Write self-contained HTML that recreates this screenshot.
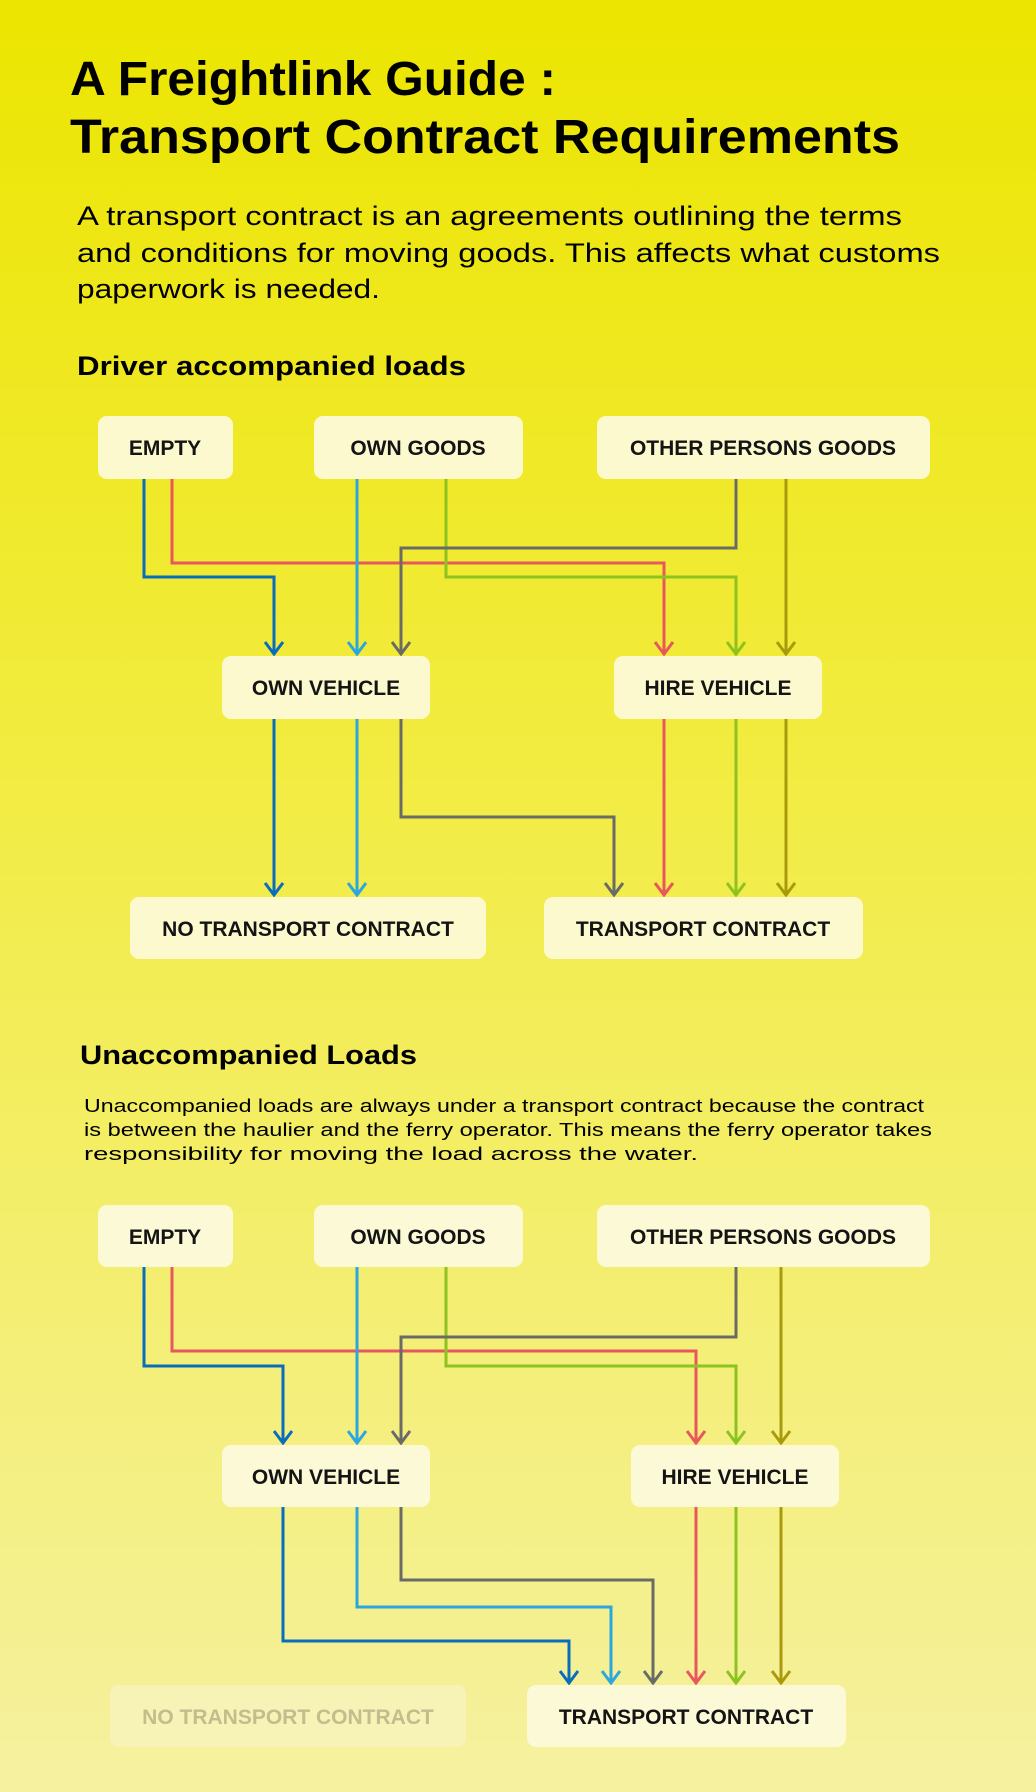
<!DOCTYPE html>
<html><head><meta charset="utf-8"><style>
html,body{margin:0;padding:0}
body{width:1036px;height:1792px;overflow:hidden;background:linear-gradient(180deg,#ece500 0%,#f2ec45 45%,#f5f1a0 100%);font-family:"Liberation Sans",sans-serif;color:#111}
svg{position:absolute;left:0;top:0}
.t{font-weight:bold;font-size:21px;fill:#141414}
</style></head><body>
<svg width="1036" height="1792" viewBox="0 0 1036 1792">
<defs>
<marker id="mb" markerWidth="24" markerHeight="16" refX="10" refY="14" orient="0" markerUnits="userSpaceOnUse"><path d="M1 2 L10 14 L19 2" fill="none" stroke="#0a6cbd" stroke-width="3"/></marker>
<marker id="ml" markerWidth="24" markerHeight="16" refX="10" refY="14" orient="0" markerUnits="userSpaceOnUse"><path d="M1 2 L10 14 L19 2" fill="none" stroke="#2ba6de" stroke-width="3"/></marker>
<marker id="mr" markerWidth="24" markerHeight="16" refX="10" refY="14" orient="0" markerUnits="userSpaceOnUse"><path d="M1 2 L10 14 L19 2" fill="none" stroke="#e8575e" stroke-width="3"/></marker>
<marker id="mg" markerWidth="24" markerHeight="16" refX="10" refY="14" orient="0" markerUnits="userSpaceOnUse"><path d="M1 2 L10 14 L19 2" fill="none" stroke="#6a6a66" stroke-width="3"/></marker>
<marker id="mn" markerWidth="24" markerHeight="16" refX="10" refY="14" orient="0" markerUnits="userSpaceOnUse"><path d="M1 2 L10 14 L19 2" fill="none" stroke="#8dc21f" stroke-width="3"/></marker>
<marker id="mo" markerWidth="24" markerHeight="16" refX="10" refY="14" orient="0" markerUnits="userSpaceOnUse"><path d="M1 2 L10 14 L19 2" fill="none" stroke="#a99a0c" stroke-width="3"/></marker>
</defs>

<text x="70" y="95" font-size="48" font-weight="bold" textLength="486" lengthAdjust="spacingAndGlyphs">A Freightlink Guide :</text>
<text x="70" y="153" font-size="48" font-weight="bold" textLength="830" lengthAdjust="spacingAndGlyphs">Transport Contract Requirements</text>
<text x="77" y="225" font-size="26.5" textLength="825" lengthAdjust="spacingAndGlyphs">A transport contract is an agreements outlining the terms</text>
<text x="77" y="262" font-size="26.5" textLength="863" lengthAdjust="spacingAndGlyphs">and conditions for moving goods. This affects what customs</text>
<text x="77" y="298" font-size="26.5" textLength="303" lengthAdjust="spacingAndGlyphs">paperwork is needed.</text>
<text x="77" y="375" font-size="27" font-weight="bold" textLength="389" lengthAdjust="spacingAndGlyphs">Driver accompanied loads</text>

<g fill="none" stroke-width="3">
<path d="M144 479 V577 H274 V654" stroke="#0a6cbd" marker-end="url(#mb)"/>
<path d="M172 479 V563 H664 V654" stroke="#e8575e" marker-end="url(#mr)"/>
<path d="M357 479 V654" stroke="#2ba6de" marker-end="url(#ml)"/>
<path d="M446 479 V577 H736 V654" stroke="#8dc21f" marker-end="url(#mn)"/>
<path d="M736 479 V548 H401 V654" stroke="#6a6a66" marker-end="url(#mg)"/>
<path d="M786 479 V654" stroke="#a99a0c" marker-end="url(#mo)"/>
<path d="M274 719 V895" stroke="#0a6cbd" marker-end="url(#mb)"/>
<path d="M357 719 V895" stroke="#2ba6de" marker-end="url(#ml)"/>
<path d="M401 719 V817 H614 V895" stroke="#6a6a66" marker-end="url(#mg)"/>
<path d="M664 719 V895" stroke="#e8575e" marker-end="url(#mr)"/>
<path d="M736 719 V895" stroke="#8dc21f" marker-end="url(#mn)"/>
<path d="M786 719 V895" stroke="#a99a0c" marker-end="url(#mo)"/>
</g>
<g fill="#fcf9cf">
<rect x="98" y="416" width="135" height="63" rx="9"/>
<rect x="314" y="416" width="209" height="63" rx="9"/>
<rect x="597" y="416" width="333" height="63" rx="9"/>
<rect x="222" y="656" width="208" height="63" rx="9"/>
<rect x="614" y="656" width="208" height="63" rx="9"/>
<rect x="130" y="897" width="356" height="62" rx="9"/>
<rect x="544" y="897" width="319" height="62" rx="9"/>
</g>
<g class="t" text-anchor="middle">
<text class="t" x="165" y="455">EMPTY</text>
<text class="t" x="418" y="455">OWN GOODS</text>
<text class="t" x="763" y="455">OTHER PERSONS GOODS</text>
<text class="t" x="326" y="695">OWN VEHICLE</text>
<text class="t" x="718" y="695">HIRE VEHICLE</text>
<text class="t" x="308" y="936">NO TRANSPORT CONTRACT</text>
<text class="t" x="703" y="936">TRANSPORT CONTRACT</text>
</g>

<text x="80" y="1064" font-size="27" font-weight="bold" textLength="337" lengthAdjust="spacingAndGlyphs">Unaccompanied Loads</text>
<text x="84" y="1112" font-size="18.5" textLength="840" lengthAdjust="spacingAndGlyphs">Unaccompanied loads are always under a transport contract because the contract</text>
<text x="84" y="1136" font-size="18.5" textLength="848" lengthAdjust="spacingAndGlyphs">is between the haulier and the ferry operator. This means the ferry operator takes</text>
<text x="84" y="1160" font-size="18.5" textLength="614" lengthAdjust="spacingAndGlyphs">responsibility for moving the load across the water.</text>

<g fill="none" stroke-width="3">
<path d="M144 1267 V1366 H283 V1443" stroke="#0a6cbd" marker-end="url(#mb)"/>
<path d="M172 1267 V1351 H696 V1443" stroke="#e8575e" marker-end="url(#mr)"/>
<path d="M357 1267 V1443" stroke="#2ba6de" marker-end="url(#ml)"/>
<path d="M446 1267 V1366 H736 V1443" stroke="#8dc21f" marker-end="url(#mn)"/>
<path d="M736 1267 V1337 H401 V1443" stroke="#6a6a66" marker-end="url(#mg)"/>
<path d="M781 1267 V1443" stroke="#a99a0c" marker-end="url(#mo)"/>
<path d="M283 1507 V1641 H569 V1683" stroke="#0a6cbd" marker-end="url(#mb)"/>
<path d="M357 1507 V1607 H611 V1683" stroke="#2ba6de" marker-end="url(#ml)"/>
<path d="M401 1507 V1580 H653 V1683" stroke="#6a6a66" marker-end="url(#mg)"/>
<path d="M696 1507 V1683" stroke="#e8575e" marker-end="url(#mr)"/>
<path d="M736 1507 V1683" stroke="#8dc21f" marker-end="url(#mn)"/>
<path d="M781 1507 V1683" stroke="#a99a0c" marker-end="url(#mo)"/>
</g>
<g fill="#fcf9d6">
<rect x="98" y="1205" width="135" height="62" rx="9"/>
<rect x="314" y="1205" width="209" height="62" rx="9"/>
<rect x="597" y="1205" width="333" height="62" rx="9"/>
<rect x="222" y="1445" width="208" height="62" rx="9"/>
<rect x="631" y="1445" width="208" height="62" rx="9"/>
<rect x="110" y="1685" width="356" height="62" rx="9" fill="#f7f3b6"/>
<rect x="527" y="1685" width="319" height="62" rx="9"/>
</g>
<text class="t" text-anchor="middle" x="165" y="1244">EMPTY</text>
<text class="t" text-anchor="middle" x="418" y="1244">OWN GOODS</text>
<text class="t" text-anchor="middle" x="763" y="1244">OTHER PERSONS GOODS</text>
<text class="t" text-anchor="middle" x="326" y="1484">OWN VEHICLE</text>
<text class="t" text-anchor="middle" x="735" y="1484">HIRE VEHICLE</text>
<text class="t" text-anchor="middle" x="288" y="1724" style="fill:#c2bd8c">NO TRANSPORT CONTRACT</text>
<text class="t" text-anchor="middle" x="686" y="1724">TRANSPORT CONTRACT</text>
</svg>
</body></html>
